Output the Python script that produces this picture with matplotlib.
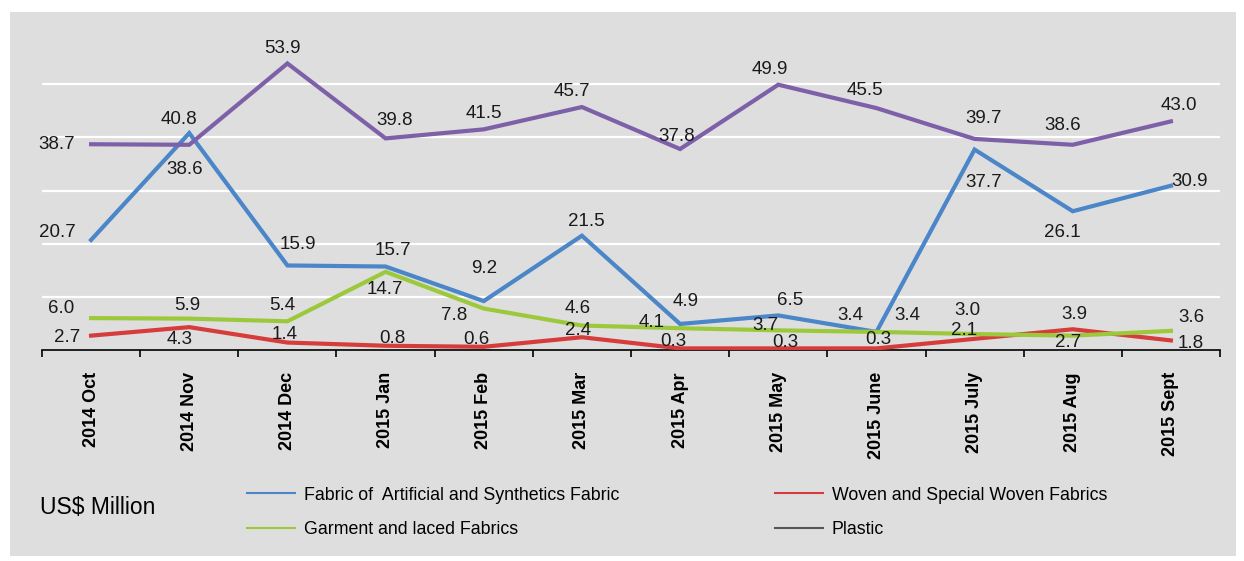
import matplotlib
matplotlib.use("Agg")
import matplotlib.pyplot as plt
from matplotlib.patches import Rectangle
from matplotlib.lines import Line2D

plt.rcParams['font.family'] = ['Liberation Sans', 'DejaVu Sans']

# data (US$ Million)
months = ["2014 Oct", "2014 Nov", "2014 Dec", "2015 Jan", "2015 Feb", "2015 Mar",
          "2015 Apr", "2015 May", "2015 June", "2015 July", "2015 Aug", "2015 Sept"]
fabric = [20.7, 40.8, 15.9, 15.7, 9.2, 21.5, 4.9, 6.5, 3.4, 37.7, 26.1, 30.9]
woven = [2.7, 4.3, 1.4, 0.8, 0.6, 2.4, 0.3, 0.3, 0.3, 2.1, 3.9, 1.8]
garment = [6.0, 5.9, 5.4, 14.7, 7.8, 4.6, 4.1, 3.7, 3.4, 3.0, 2.7, 3.6]
plastic = [38.7, 38.6, 53.9, 39.8, 41.5, 45.7, 37.8, 49.9, 45.5, 39.7, 38.6, 43.0]

# label offsets in pixels (dx, dy)
off_fabric = [(-34, 7), (-10, 14), (10, 21), (7, 16), (0, 33), (4, 14),
              (6, 22), (12, 15), (-26, 16), (9, -33), (-10, -21), (19, 4)]
off_woven = [(-24, -2), (-10, -12), (-3, 8), (7, 7), (-7, 7), (-4, 7),
             (-7, 7), (7, 6), (2, 9), (-11, 8), (2, 15), (20, -3)]
off_garment = [(-30, 10), (-2, 13), (-5, 16), (-1, -18), (-30, -7), (-4, 17),
               (-28, 6), (-13, 5), (31, 16), (-7, 24), (-5, -7), (20, 13)]
off_plastic = [(-34, 0), (-5, -25), (-5, 15), (9, 18), (0, 16), (-10, 16),
               (-3, 13), (-8, 15), (-11, 18), (9, 20), (-10, 19), (8, 16)]

c_blue = "#4a86c8"
c_red = "#d63c3c"
c_green = "#9cc93c"
c_purple = "#7d60a8"
bg = "#dedede"

W, H = 1244, 561
fig = plt.figure(figsize=(W / 100, H / 100), dpi=100, facecolor="white")
fig.patches.append(Rectangle((10 / W, 5 / H), 1226 / W, 544 / H, transform=fig.transFigure,
                             facecolor=bg, edgecolor="none", zorder=-10))

ax = fig.add_axes([42 / W, 1 - 350 / H, 1178 / W, 319 / H])
ax.set_facecolor("none")
x = list(range(len(months)))

series = [(fabric, c_blue, off_fabric), (woven, c_red, off_woven),
          (garment, c_green, off_garment), (plastic, c_purple, off_plastic)]
for vals, col, offs in series:
    ax.plot(x, vals, color=col, lw=3, solid_joinstyle="miter", zorder=3)
for vals, col, offs in series:
    for xi, v, (dx, dy) in zip(x, vals, offs):
        ax.annotate(f"{v:.1f}", (xi, v), xytext=(dx, dy), textcoords="offset pixels",
                    ha="center", va="center", fontsize=13.5, color="#1a1a1a", zorder=5)

ax.set_xlim(-0.5, 11.5)
ax.set_ylim(0, 60)
ax.set_yticks([10, 20, 30, 40, 50])
ax.yaxis.grid(True, color="white", lw=1.6)
ax.set_axisbelow(True)
ax.tick_params(axis="y", length=0, labelleft=False)
for s in ["top", "right", "left"]:
    ax.spines[s].set_visible(False)
ax.spines["bottom"].set_color("black")
ax.spines["bottom"].set_linewidth(1.2)

ax.set_xticks(x)
ax.set_xticklabels(months, rotation=90, fontsize=13, fontweight="bold", va="top")
ax.tick_params(axis="x", length=0, pad=16)
ax.set_xticks([i - 0.5 for i in range(len(months) + 1)], minor=True)
ax.tick_params(axis="x", which="minor", length=5, width=1.2, direction="out")

fig.text(40 / W, 1 - 508 / H, "US$ Million", fontsize=16.5, va="center", ha="left")

h1 = [Line2D([], [], color=c_blue, lw=1.5), Line2D([], [], color=c_green, lw=1.5)]
h2 = [Line2D([], [], color=c_red, lw=1.5), Line2D([], [], color="#555555", lw=1.5)]
leg_kw = dict(loc="center left", frameon=False, fontsize=12.75, handlelength=2.7,
              handletextpad=0.5, labelspacing=1.0, borderpad=0, borderaxespad=0)
fig.legend(h1, ["Fabric of  Artificial and Synthetics Fabric", "Garment and laced Fabrics"],
           bbox_to_anchor=(247 / W, 1 - 512.5 / H), **leg_kw)
fig.legend(h2, ["Woven and Special Woven Fabrics", "Plastic"],
           bbox_to_anchor=(775 / W, 1 - 512.5 / H), **leg_kw)

fig.savefig("out.png", dpi=100, facecolor="white")
